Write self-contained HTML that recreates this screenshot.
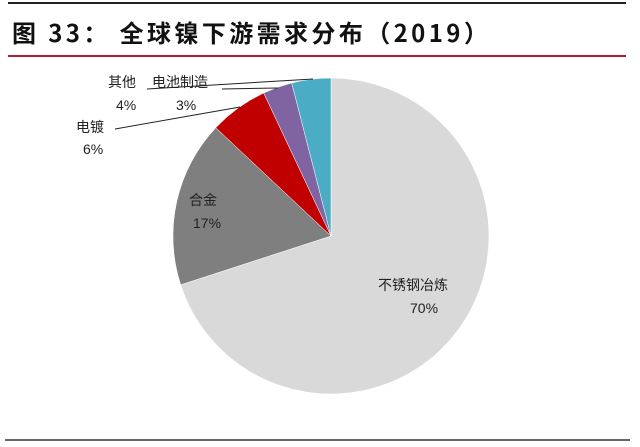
<!DOCTYPE html>
<html><head><meta charset="utf-8"><style>
body{margin:0;background:#fff;}
svg{display:block;font-family:"Liberation Sans","Noto Sans CJK SC",sans-serif;}
</style></head><body>
<svg width="640" height="447" viewBox="0 0 640 447">
<line x1="8" y1="3" x2="626" y2="3" stroke="#222" stroke-width="2"/>
<text x="12" y="42" font-size="24" font-weight="bold" fill="#111" letter-spacing="3.4" font-family="'Noto Sans CJK SC',sans-serif">图 33： 全球镍下游需求分布（2019）</text>
<line x1="8" y1="56" x2="626" y2="56" stroke="#b0202a" stroke-width="2"/>
<g stroke="#fff" stroke-width="0.5">
<path d="M331,236 L331,78 A158,158 0 1 1 180.7,284.8 Z" fill="#d9d9d9"/>
<path d="M331,236 L180.7,284.8 A158,158 0 0 1 215.8,127.8 Z" fill="#7f7f7f"/>
<path d="M331,236 L215.8,127.8 A158,158 0 0 1 263.7,93.0 Z" fill="#c00000"/>
<path d="M331,236 L263.7,93.0 A158,158 0 0 1 291.7,83.0 Z" fill="#8064a2"/>
<path d="M331,236 L291.7,83.0 A158,158 0 0 1 331,78 Z" fill="#4bacc6"/>
</g>
<g stroke="#222" stroke-width="1" fill="none">
<polyline points="147,89 313,79"/>
<polyline points="222,89 278,88"/>
<polyline points="115,129 240,107"/>
</g>
<g font-size="14" fill="#222">
<text x="108" y="87">其他</text>
<text x="116" y="110">4%</text>
<text x="152" y="87">电池制造</text>
<text x="176" y="110">3%</text>
<text x="76" y="132">电镀</text>
<text x="83" y="154">6%</text>
<text x="189" y="205">合金</text>
<text x="193" y="228">17%</text>
<text x="378" y="290">不锈钢冶炼</text>
<text x="410" y="313">70%</text>
</g>
<line x1="5" y1="440" x2="630" y2="440" stroke="#333" stroke-width="1.5"/>
</svg>
</body></html>
